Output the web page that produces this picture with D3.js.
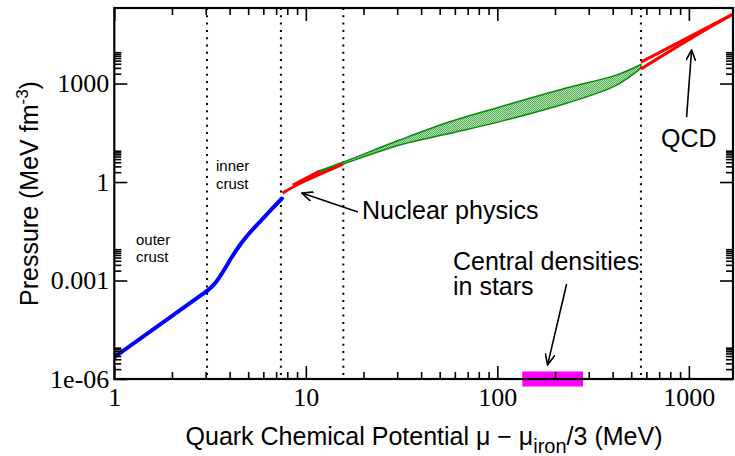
<!DOCTYPE html>
<html>
<head>
<meta charset="utf-8">
<script src="https://cdn.jsdelivr.net/npm/d3@7"></script>
<style>
body { margin: 0; background: #fff; }
.label { font-family: "Liberation Sans", Arial, Helvetica, sans-serif; fill: #000; }
.tick text { font-family: "Liberation Serif", "Times New Roman", serif; font-size: 26px; fill: #000; }
</style>
</head>
<body>
<div id="chart"></div>
<script>
var svgWidth = 735;
var svgHeight = 456;

var margin = { top: 8, left: 114.3 };
var width = 733 - margin.left;
var height = 379 - margin.top;

// Axis ticks and labels
var xMajorTicks = [1, 10, 100, 1000];
var xTickLabels = ["1", "10", "100", "1000"];
var yMajorTicks = [1e-6, 1e-3, 1, 1e3];
var yTickLabels = ["1e-06", "0.001", "1", "1000"];

// Region boundaries (dotted lines)
var boundaries = [3.05, 7.41, 15.7, 562];

// Crust equation of state (blue): outer crust is a straight power law, inner crust an S-curve
var outerCrust = [[1, 4.6e-6], [3.05, 4.8e-4]];
var innerCrust = [[3.05, 4.8e-4], [3.40, 9.0e-4], [3.74, 2.09e-3], [4.11, 5.2e-3], [4.53, 0.0121],
    [5.11, 0.029], [5.90, 0.072], [6.65, 0.151], [7.50, 0.315]];

// Nuclear physics (red, low density)
var nuclearLow = [[7.55, 0.46], [9.3, 0.9], [11.8, 1.7], [15.6, 3.5]];
var nuclearHigh = [[8.55, 0.81], [10, 1.3], [11.8, 2.15]];

// Interpolated band (green)
var bandMu = [11.8, 15.6, 30.9, 56, 102, 229, 417, 562];
var bandUpper = [2.2, 4.0, 19, 67, 190, 730, 1800, 3800];
var bandLower = [2.0, 3.5, 13.4, 30, 68, 250, 880, 2950];

// Perturbative QCD (red, high density)
var qcdUpper = [[562, 4500], [1700, 1.31e5]];
var qcdLower = [[562, 2770], [1040, 25000], [1700, 1.31e5]];

// Central densities in stars
var starRange = [135, 280];

var svg = d3.select("#chart")
    .append("svg")
    .attr("width", svgWidth)
    .attr("height", svgHeight);

var defs = svg.append("defs");

var pat = defs.append("pattern")
    .attr("id", "stipple")
    .attr("patternUnits", "userSpaceOnUse")
    .attr("width", 2)
    .attr("height", 2);
pat.append("rect").attr("width", 2).attr("height", 2).attr("fill", "#ffffff");
pat.append("rect").attr("width", 1).attr("height", 1).attr("fill", "#0e900e");
pat.append("rect").attr("x", 1).attr("y", 1).attr("width", 1).attr("height", 1).attr("fill", "#0e900e");

defs.append("marker")
    .attr("id", "arrow")
    .attr("viewBox", "0 0 12 10")
    .attr("refX", 11)
    .attr("refY", 5)
    .attr("markerWidth", 12)
    .attr("markerHeight", 10)
    .attr("markerUnits", "userSpaceOnUse")
    .attr("orient", "auto")
    .append("path")
    .attr("d", "M0,0 L11,5 L0,10")
    .attr("fill", "none")
    .attr("stroke", "#000")
    .attr("stroke-width", 1.6);

defs.append("clipPath").attr("id", "plotclip")
    .append("rect").attr("width", width).attr("height", height);

var chartGroup = svg.append("g")
    .attr("transform", `translate(${margin.left}, ${margin.top})`);

var xScale = d3.scaleLog().domain([1, 1700]).range([0, width]);
var yScale = d3.scaleLog().domain([1e-6, 2e5]).range([height, 0]);

// minor ticks
var xMinorTicks = [];
xMajorTicks.forEach(function (m) {
    for (var k = 2; k <= 9; k++) {
        if (m * k <= 1700) xMinorTicks.push(m * k);
    }
});
var yMinorTicks = [];
yMajorTicks.forEach(function (m) {
    for (var k = 2; k <= 9; k++) yMinorTicks.push(m * k);
});

// Central densities bar (under the axis)
chartGroup.append("rect")
    .attr("x", xScale(starRange[0]))
    .attr("y", height - 7.5)
    .attr("width", xScale(starRange[1]) - xScale(starRange[0]))
    .attr("height", 15)
    .attr("fill", "#ff00ff");

// dotted boundaries
chartGroup.selectAll(".boundary")
    .data(boundaries)
    .enter()
    .append("line")
    .attr("class", "boundary")
    .attr("x1", d => xScale(d))
    .attr("x2", d => xScale(d))
    .attr("y1", 0)
    .attr("y2", height)
    .attr("stroke", "#000")
    .attr("stroke-width", 2)
    .attr("stroke-dasharray", "2,5.3");

var plot = chartGroup.append("g").attr("clip-path", "url(#plotclip)");

var line = d3.line()
    .x(d => xScale(d[0]))
    .y(d => yScale(d[1]))
    .curve(d3.curveCatmullRom.alpha(0.5));

var smoothLine = d3.line()
    .x(d => xScale(d[0]))
    .y(d => yScale(d[1]))
    .curve(d3.curveMonotoneX);

// green band
var bandArea = d3.area()
    .x((d, i) => xScale(bandMu[i]))
    .y0((d, i) => yScale(bandLower[i]))
    .y1((d, i) => yScale(bandUpper[i]))
    .curve(d3.curveCatmullRom.alpha(0.5));

plot.append("path")
    .datum(bandMu)
    .attr("d", bandArea)
    .attr("fill", "url(#stipple)")
    .attr("stroke", "#0a8a0a")
    .attr("stroke-width", 1.5);

// blue crust
[outerCrust, innerCrust].forEach(function (s) {
    plot.append("path")
        .datum(s)
        .attr("d", smoothLine)
        .attr("fill", "none")
        .attr("stroke", "#0000ff")
        .attr("stroke-width", 4)
        .attr("stroke-linejoin", "round")
        .attr("stroke-linecap", "round");
});

// red nuclear physics
[nuclearLow, nuclearHigh].forEach(function (s) {
    plot.append("path")
        .datum(s)
        .attr("d", line)
        .attr("fill", "none")
        .attr("stroke", "#ff0000")
        .attr("stroke-width", 3);
});

// red QCD
[qcdUpper, qcdLower].forEach(function (s) {
    plot.append("path")
        .datum(s)
        .attr("d", line)
        .attr("fill", "none")
        .attr("stroke", "#ff0000")
        .attr("stroke-width", 3);
});

// Axes: ticks inward on all four sides
function styleAxis(g) {
    g.select(".domain").remove();
    g.selectAll(".tick line").attr("stroke", "#000").attr("stroke-width", 1.6);
}

chartGroup.append("g")
    .attr("transform", `translate(0, ${height})`)
    .call(d3.axisBottom(xScale).tickValues(xMajorTicks).tickSize(-13).tickPadding(9)
        .tickFormat((d, i) => xTickLabels[i]))
    .call(styleAxis)
    .selectAll("text").attr("dy", "0.71em");
chartGroup.append("g")
    .attr("transform", `translate(0, ${height})`)
    .call(d3.axisBottom(xScale).tickValues(xMinorTicks).tickSize(-7).tickFormat(""))
    .call(styleAxis);
chartGroup.append("g")
    .call(d3.axisTop(xScale).tickValues(xMajorTicks).tickSize(-13).tickFormat(""))
    .call(styleAxis);
chartGroup.append("g")
    .call(d3.axisTop(xScale).tickValues(xMinorTicks).tickSize(-7).tickFormat(""))
    .call(styleAxis);

chartGroup.append("g")
    .call(d3.axisLeft(yScale).tickValues(yMajorTicks).tickSize(-13).tickPadding(5)
        .tickFormat((d, i) => yTickLabels[i]))
    .call(styleAxis);
chartGroup.append("g")
    .call(d3.axisLeft(yScale).tickValues(yMinorTicks).tickSize(-7).tickFormat(""))
    .call(styleAxis);
chartGroup.append("g")
    .attr("transform", `translate(${width}, 0)`)
    .call(d3.axisRight(yScale).tickValues(yMajorTicks).tickSize(-13).tickFormat(""))
    .call(styleAxis);
chartGroup.append("g")
    .attr("transform", `translate(${width}, 0)`)
    .call(d3.axisRight(yScale).tickValues(yMinorTicks).tickSize(-7).tickFormat(""))
    .call(styleAxis);

// frame
chartGroup.append("rect")
    .attr("width", width)
    .attr("height", height)
    .attr("fill", "none")
    .attr("stroke", "#000")
    .attr("stroke-width", 2.2);

// Region labels
function addLines(x, y, lines, size, lh) {
    var t = chartGroup.append("text")
        .attr("class", "label")
        .attr("font-size", size);
    lines.forEach(function (s, i) {
        t.append("tspan")
            .attr("x", x)
            .attr("y", y + i * lh)
            .text(s);
    });
}
addLines(136 - margin.left, 245 - margin.top, ["outer", "crust"], 15, 17);
addLines(216 - margin.left, 171 - margin.top, ["inner", "crust"], 15, 18);
addLines(362 - margin.left, 219 - margin.top, ["Nuclear physics"], 25, 0);
addLines(453 - margin.left, 270 - margin.top, ["Central densities", "in stars"], 25, 25);
addLines(661 - margin.left, 147 - margin.top, ["QCD"], 25, 0);

// Arrows
var arrows = [
    [[18.7, 0.122], [9.54, 0.46]],
    [[230, 7.8e-4], [183, 2.7e-6]],
    [[973, 95], [1033, 10500]]
];
chartGroup.selectAll(".arrow")
    .data(arrows)
    .enter()
    .append("line")
    .attr("class", "arrow")
    .attr("x1", d => xScale(d[0][0]))
    .attr("y1", d => yScale(d[0][1]))
    .attr("x2", d => xScale(d[1][0]))
    .attr("y2", d => yScale(d[1][1]))
    .attr("stroke", "#000")
    .attr("stroke-width", 1.6)
    .attr("marker-end", "url(#arrow)");

// Axis titles
var yTitle = svg.append("text")
    .attr("class", "label")
    .attr("font-size", 25)
    .attr("text-anchor", "middle")
    .attr("transform", `translate(38, ${margin.top + height / 2}) rotate(-90)`);
yTitle.append("tspan").text("Pressure (MeV fm");
yTitle.append("tspan").attr("font-size", 17).attr("dy", -10).text("-3");
yTitle.append("tspan").attr("dy", 10).text(")");

var xTitle = svg.append("text")
    .attr("class", "label")
    .attr("font-size", 25)
    .attr("text-anchor", "middle")
    .attr("x", 424)
    .attr("y", 445);
xTitle.append("tspan").text("Quark Chemical Potential \u03bc \u2212 \u03bc");
xTitle.append("tspan").attr("font-size", 20).attr("dy", 8).text("iron");
xTitle.append("tspan").attr("dy", -8).text("/3 (MeV)");
</script>
</body>
</html>
